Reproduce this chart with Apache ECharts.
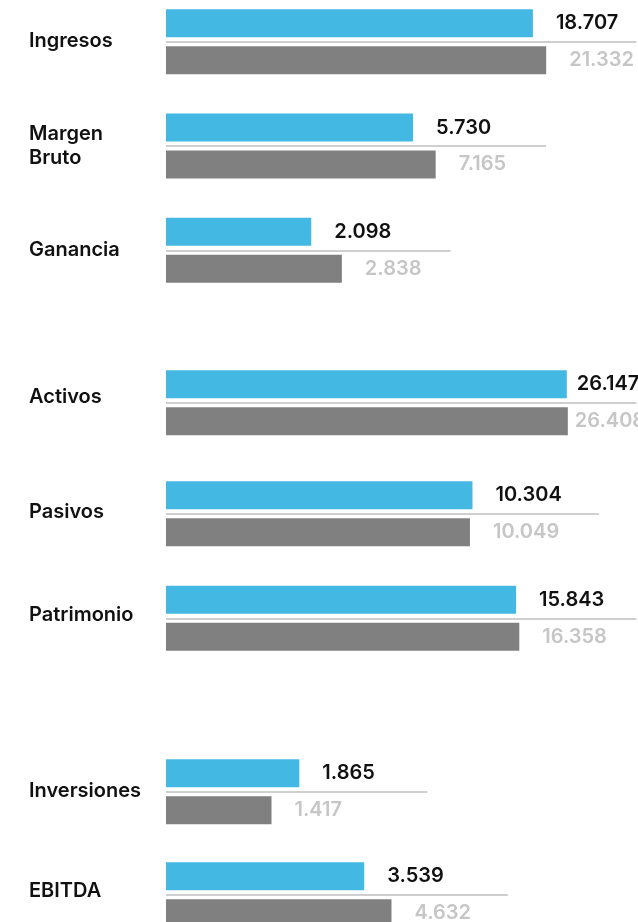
<!DOCTYPE html>
<html><head><meta charset="utf-8">
<script src="https://cdn.jsdelivr.net/npm/echarts@6/dist/echarts.min.js"></script>
<style>html,body{margin:0;padding:0;background:#fff}#c{width:638px;height:922px}</style>
</head><body><div id="c"></div>
<script>
// ---- data ----
const categories = ['Ingresos', 'Margen\nBruto', 'Ganancia', 'Activos', 'Pasivos', 'Patrimonio', 'Inversiones', 'EBITDA'];
const currentValues = [18707, 5730, 2098, 26147, 10304, 15843, 1865, 3539];
const previousValues = [21332, 7165, 2838, 26408, 10049, 16358, 1417, 4632];
const separatorEnds = [52000, 21300, 8300, 52000, 35900, 52000, 6600, 14600];

// ---- layout ----
const rowCenters = [41.7, 146, 250.3, 402.7, 513.7, 618.3, 791.7, 894.7];
const labelLift = [1, 0, 0, 6, 2, 3, 1, 4];
const AXIS_MIN = 500, AXIS_MAX = 52800;
const FONT = 'Inter';
const fmt = v => String(v).replace(/\B(?=(\d{3})+(?!\d))/g, '.');

const grids = [], xAxes = [], yAxes = [], series = [];
categories.forEach((cat, i) => {
  const lift = labelLift[i];
  const catLabelStyle = {
    align: 'left', margin: 137, fontFamily: FONT, fontSize: 20, fontWeight: 600, color: '#111', lineHeight: 24,
    formatter: v => lift ? `{t|${v}}` : v,
    rich: { t: { fontFamily: FONT, fontSize: 20, fontWeight: 600, color: '#111', lineHeight: 24, padding: [0, 0, lift * 2, 0] } }
  };
  grids.push({ left: 166, right: 0, top: rowCenters[i] - 40, height: 80, outerBoundsMode: 'none', containLabel: false });
  xAxes.push({ type: 'log', gridIndex: i, min: AXIS_MIN, max: AXIS_MAX, startValue: AXIS_MIN, show: false });
  yAxes.push({
    type: 'category', gridIndex: i, inverse: true,
    data: [cat],
    axisLine: { show: false }, axisTick: { show: false }, splitLine: { show: false },
    axisLabel: catLabelStyle
  });
  const blueDist = i === 3 ? 10 : 23;
  const grayDist = i === 3 ? 7 : 23;
  series.push({
    type: 'line', xAxisIndex: i, yAxisIndex: i, data: [], silent: true,
    markLine: {
      silent: true, symbol: ['none', 'none'], animation: false,
      lineStyle: { color: '#cfcfcf', width: 2, type: 'solid' }, label: { show: false },
      data: [[{ coord: [AXIS_MIN, 0] }, { coord: [separatorEnds[i], 0] }]]
    }
  });
  series.push({
    type: 'bar', xAxisIndex: i, yAxisIndex: i, data: [currentValues[i]], clip: true,
    barWidth: 28, barGap: '32%', itemStyle: { color: '#43b8e3' }, animation: false,
    label: { show: true, position: 'right', distance: blueDist, color: '#111', fontFamily: FONT, fontSize: 20, fontWeight: 600, formatter: p => fmt(p.value) }
  });
  series.push({
    type: 'bar', xAxisIndex: i, yAxisIndex: i, data: [previousValues[i]], clip: true,
    barWidth: 28, barGap: '32%', itemStyle: { color: '#808080' }, animation: false,
    label: { show: true, position: 'right', distance: grayDist, color: '#c6c6c6', fontFamily: FONT, fontSize: 20, fontWeight: 600, formatter: p => fmt(p.value) }
  });
});

const chart = echarts.init(document.getElementById('c'), null, { renderer: 'canvas' });
chart.setOption({ backgroundColor: '#fff', animation: false, grid: grids, xAxis: xAxes, yAxis: yAxes, series });
</script></body></html>
